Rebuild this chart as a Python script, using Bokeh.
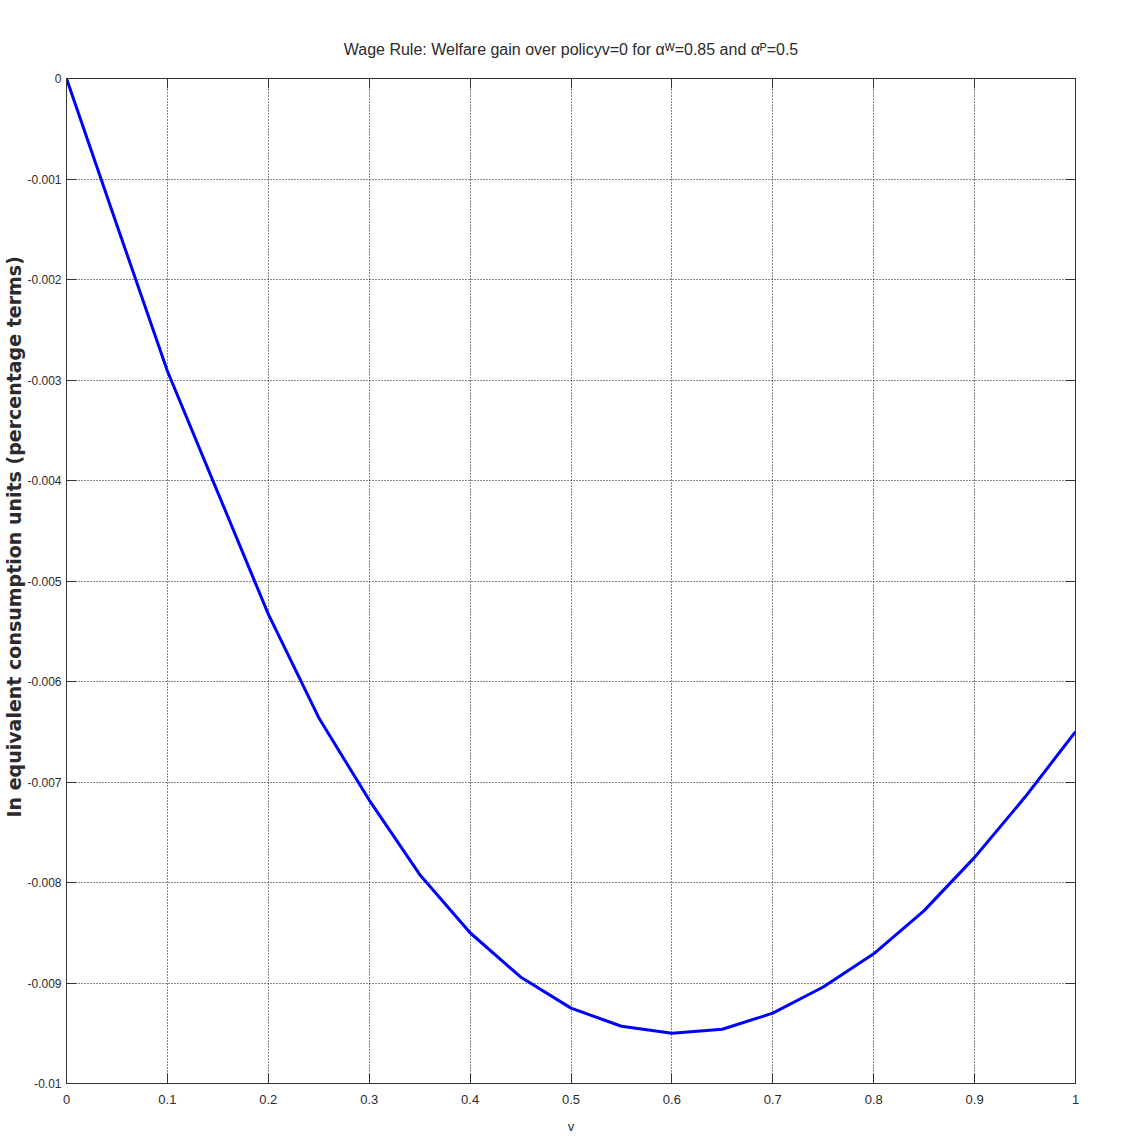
from bokeh.plotting import figure
from bokeh.models import Range1d, FixedTicker, LinearAxis, Title
from bokeh.embed import file_html
from bokeh.resources import INLINE

# ---- data ----
v_values = [0.0, 0.05, 0.1, 0.15, 0.2, 0.25, 0.3, 0.35, 0.4, 0.45, 0.5,
            0.55, 0.6, 0.65, 0.7, 0.75, 0.8, 0.85, 0.9, 0.95, 1.0]
welfare_gain = [0.0, -0.00146, -0.00291, -0.00412, -0.00533, -0.00636, -0.00718,
                -0.00792, -0.00850, -0.00894, -0.00925, -0.00943, -0.00950,
                -0.00946, -0.00930, -0.00904, -0.00871, -0.00828, -0.00775,
                -0.00715, -0.00650]
x_ticks = [0.0, 0.1, 0.2, 0.3, 0.4, 0.5, 0.6, 0.7, 0.8, 0.9, 1.0]
x_tick_labels = ["0", "0.1", "0.2", "0.3", "0.4", "0.5", "0.6", "0.7", "0.8", "0.9", "1"]
y_ticks = [0.0, -0.001, -0.002, -0.003, -0.004, -0.005, -0.006, -0.007, -0.008, -0.009, -0.01]
y_tick_labels = ["0", "-0.001", "-0.002", "-0.003", "-0.004", "-0.005", "-0.006",
                 "-0.007", "-0.008", "-0.009", "-0.01"]

title_text = "Wage Rule: Welfare gain over policyv=0 for \u03b1\u1d42=0.85 and \u03b1\u1d3e=0.5"
x_label = "v"
y_label = "In equivalent consumption units (percentage terms)"

FONT = "'Liberation Sans', Arial, sans-serif"
TEXT_COLOR = "#2b2b2b"

p = figure(width=1115, height=1136, output_backend="svg", toolbar_location=None,
           x_range=Range1d(0, 1), y_range=Range1d(-0.01, 0),
           min_border_left=65, min_border_right=40, min_border_top=78, min_border_bottom=52,
           x_axis_location=None, y_axis_location=None)
p.background_fill_color = "white"
p.border_fill_color = "white"
p.outline_line_color = "#333333"
p.outline_line_width = 1

# title
p.title = Title(text=title_text, align="center", text_font=FONT,
                text_font_size="16px", text_font_style="normal", text_color=TEXT_COLOR,
                standoff=42)

def style_axis(ax, ticks, labels, show_labels=True):
    ax.ticker = FixedTicker(ticks=ticks)
    ax.major_tick_in = 10
    ax.major_tick_out = 0
    ax.minor_tick_line_color = None
    ax.axis_line_color = "#333333"
    ax.major_tick_line_color = "#333333"
    ax.major_tick_line_width = 1
    if show_labels:
        ax.major_label_overrides = {t: l for t, l in zip(ticks, labels)}
        ax.major_label_text_font = FONT
        ax.major_label_text_font_size = "12px"
        ax.major_label_text_color = TEXT_COLOR
    else:
        ax.major_label_text_color = None
        ax.major_label_standoff = 0

xb = LinearAxis()
style_axis(xb, x_ticks, x_tick_labels)
xb.major_label_text_font_size = "13px"
xb.major_label_standoff = 11
xb.axis_label = x_label
xb.axis_label_text_font = FONT
xb.axis_label_text_font_size = "13px"
xb.axis_label_text_font_style = "normal"
xb.axis_label_text_color = TEXT_COLOR
xb.axis_label_standoff = 12
p.add_layout(xb, "below")

yl = LinearAxis()
style_axis(yl, y_ticks, y_tick_labels)
yl.major_label_standoff = 5
yl.axis_label = None
p.add_layout(yl, "left")

p.add_layout(Title(text=y_label, align="left", text_font="'DejaVu Sans', sans-serif",
                   text_font_size="19px", text_font_style="bold", text_color=TEXT_COLOR,
                   standoff=0, offset=266), "left")

xt = LinearAxis()
style_axis(xt, x_ticks, x_tick_labels, show_labels=False)
p.add_layout(xt, "above")

yr = LinearAxis()
style_axis(yr, y_ticks, y_tick_labels, show_labels=False)
p.add_layout(yr, "right")

# dotted grid
p.xgrid.ticker = FixedTicker(ticks=x_ticks)
p.ygrid.ticker = FixedTicker(ticks=y_ticks)
for g in p.grid:
    g.grid_line_color = "#111111"
    g.grid_line_dash = "1 2"
    g.grid_line_width = 1

p.line(v_values, welfare_gain, line_color="#0000ff", line_width=3)

open("out.html", "w").write(file_html(p, INLINE))
